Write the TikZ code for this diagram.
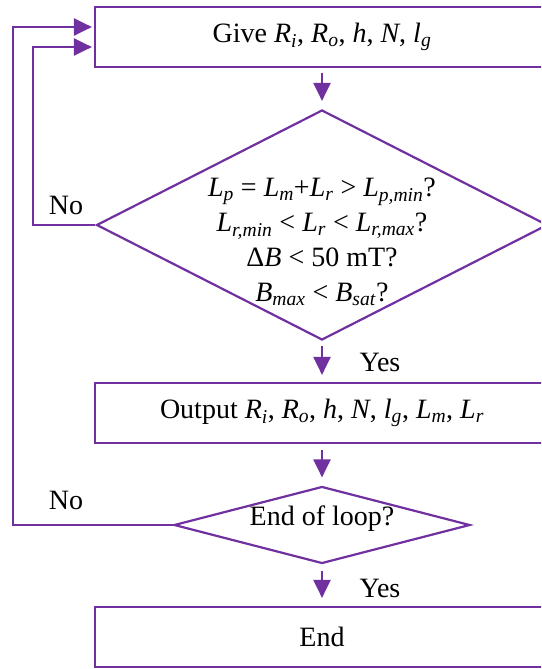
\documentclass[tikz,border=0pt]{standalone}
\usepackage{fontspec}
\setmainfont{Liberation Serif}
\usepackage{tikz}
\usetikzlibrary{shapes.geometric,arrows.meta,calc}
\definecolor{flowP}{HTML}{7030A0}
\newcommand{\vs}[2]{\textit{#1}\textsubscript{\textit{#2}}}

\begin{document}
\begin{tikzpicture}[x=1pt, y=-1pt, font=\fontsize{28}{35}\selectfont,
  procbox/.style={draw=flowP, line width=2.2pt, minimum width=454pt,
    minimum height=60pt, inner sep=0pt},
  decide/.style={draw=flowP, line width=2.2pt, diamond, inner sep=0pt},
  flow/.style={draw=flowP, line width=2.2pt,
    -{Triangle[length=18pt,width=17pt]}},
  ]
\useasboundingbox (0,0) rectangle (541,669);
\clip (0,0) rectangle (541,669);

% === steps
\node[procbox] (give) at (322,37) {Give \vs{R}{i}, \vs{R}{o}, \textit{h}, \textit{N}, \vs{l}{g}};
\node[decide, minimum width=451pt, minimum height=230pt] (check) at (322,225) {};
\node[align=center, inner sep=0pt] (checktxt) at (322,242)
  {\vs{L}{p} = \vs{L}{m}+\vs{L}{r} > \vs{L}{p,min}?\\
   \vs{L}{r,min} < \vs{L}{r} < \vs{L}{r,max}?\\
   Δ\textit{B} < 50 mT?\\
   \vs{B}{max} < \vs{B}{sat}?};
\node[procbox] (out) at (322,413)
  {Output \vs{R}{i}, \vs{R}{o}, \textit{h}, \textit{N}, \vs{l}{g}, \vs{L}{m}, \vs{L}{r}};
\node[decide, minimum width=296pt, minimum height=77pt] (loop) at (322,525) {};
\node[inner sep=0pt] (looptxt) at (322,519) {End of loop?};
\node[procbox] (stop) at (322,637) {End};

% === main flow
\draw[flow, shorten <=5pt, shorten >=8pt] (give.south) -- (check.north);
\draw[flow, shorten <=5pt, shorten >=7pt] (check.south) -- (out.north);
\draw[flow, shorten <=6pt, shorten >=8pt] (out.south) -- (loop.north);
\draw[flow, shorten <=6pt, shorten >=8pt] (loop.south) -- (stop.north);
\node (yesA) at (380,362) {Yes};
\node (yesB) at (380,588) {Yes};

% === back loops
\draw[flow, shorten >=2pt] (check.west) -- (33,225) |- ([yshift=-10pt]give.west);
\draw[flow, shorten >=2pt] (loop.west) -- (13,525) |- ([yshift=10pt]give.west);
\node (noA) at (66,205) {No};
\node (noB) at (66,500) {No};

\end{tikzpicture}
\end{document}
